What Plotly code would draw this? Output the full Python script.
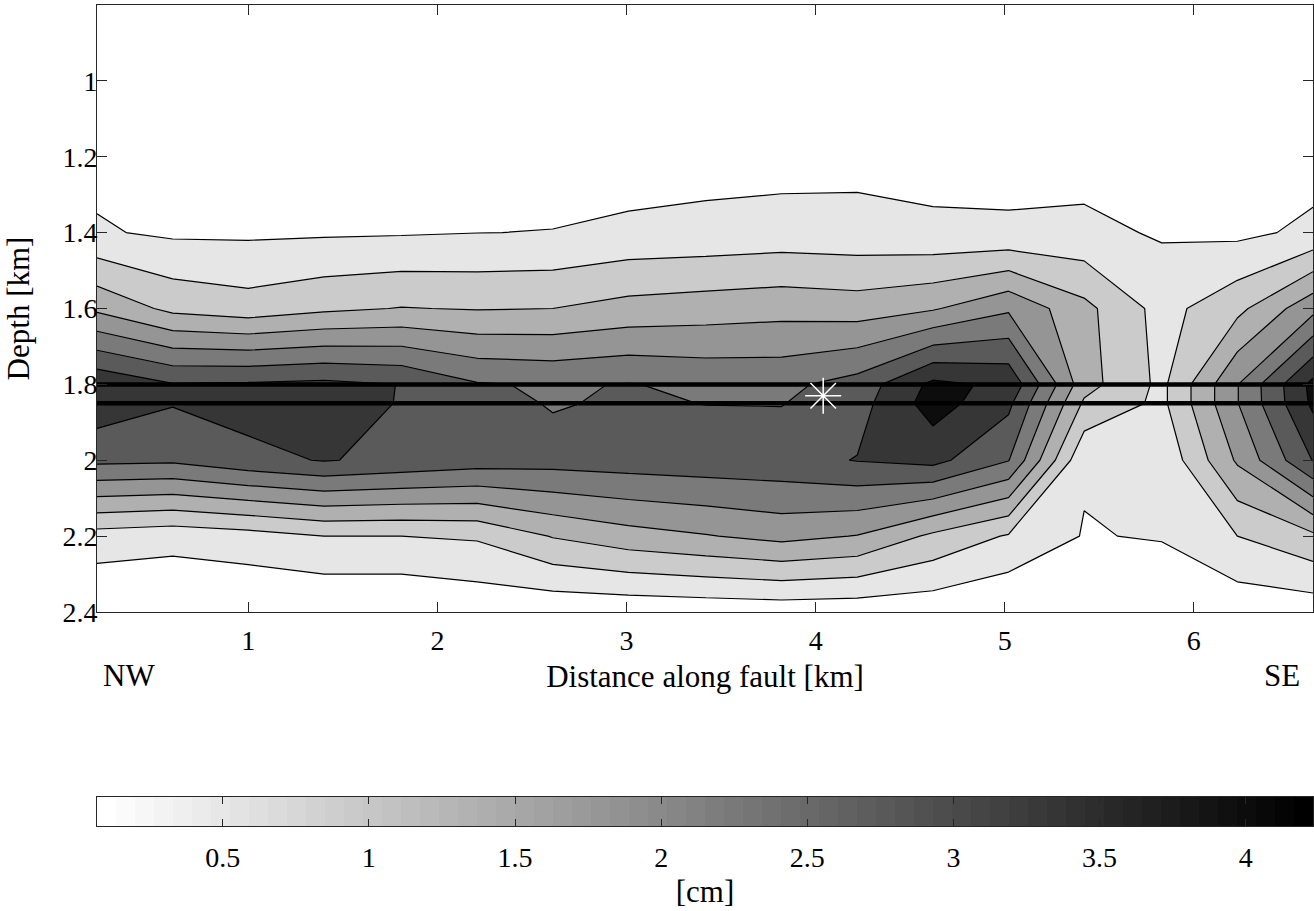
import numpy as np
import plotly.graph_objects as go

# ---------------- data ----------------
# grid columns: distance along fault [km]
distance_km = [0.20, 0.60, 1.00, 1.40, 1.81, 2.21, 2.61, 3.01, 3.42,
               3.82, 4.22, 4.62, 5.02, 5.42, 5.83, 6.23, 6.63]
# grid rows: depth [km]
depth_km = [0.80, 1.00, 1.20, 1.40, 1.60, 1.80, 1.85, 2.00, 2.20, 2.40]

# slip [cm] along each depth row (one value per distance column)
slip_d080 = [0.0] * 17
slip_d100 = [0.0] * 17
slip_d120 = [0.35, 0.30, 0.30, 0.30, 0.30, 0.30, 0.30, 0.17, 0.28, 0.30, 0.34, 0.29, 0.31, 0.30, 0.20, 0.20, 0.30]
slip_d140 = [0.55, 0.42, 0.42, 0.44, 0.46, 0.495, 0.51, 0.63, 0.66, 0.71, 0.68, 0.61, 0.58, 0.62, 0.45, 0.39, 0.60]
slip_d160 = [1.90, 1.37, 1.21, 1.40, 1.52, 1.47, 1.50, 1.67, 1.75, 1.82, 1.75, 1.95, 2.42, 1.64, 0.82, 1.36, 2.35]
slip_d180 = [3.90, 3.53, 3.56, 3.62, 3.49, 3.04, 2.95, 3.02, 2.90, 2.88, 3.20, 4.12, 3.90, 1.70, 0.88, 2.48, 4.15]
slip_d185 = [3.80, 3.53, 3.70, 3.75, 3.47, 3.20, 2.96, 3.07, 2.99, 2.98, 3.30, 4.23, 3.62, 1.42, 0.88, 2.48, 4.10]
slip_d200 = [3.12, 3.08, 3.35, 3.53, 3.38, 3.24, 3.20, 3.25, 3.30, 3.33, 3.52, 3.65, 3.02, 0.56, 0.59, 2.07, 3.52]
slip_d220 = [0.78, 0.68, 0.80, 1.00, 1.00, 1.06, 1.53, 1.80, 1.97, 2.15, 1.98, 1.40, 0.95, 0.47, 0.54, 1.00, 1.40]
slip_d240 = [0.00, 0.00, 0.00, 0.00, 0.00, 0.13, 0.11, 0.13, 0.16, 0.19, 0.17, 0.15, 0.00, 0.10, 0.00, 0.17, 0.20]

slip_rows = [slip_d080, slip_d100, slip_d120, slip_d140, slip_d160,
             slip_d180, slip_d185, slip_d200, slip_d220, slip_d240]

# contour levels [cm]
level_start, level_end, level_step = 0.5, 4.0, 0.5
# fill colour of each band: below first level, then above each level
band_colors = ["#ffffff", "#e6e6e6", "#cbcbcb", "#b0b0b0", "#959595",
               "#7a7a7a", "#5a5a5a", "#363636", "#0d0d0d"]

# reservoir layer boundaries [km] and hypocentre
layer_depths = [1.80, 1.85]
hypo_distance, hypo_depth = 4.04, 1.83

# axis ticks
x_ticks = [1, 2, 3, 4, 5, 6]
y_ticks = [1.0, 1.2, 1.4, 1.6, 1.8, 2.0, 2.2, 2.4]
y_ticktext = ["1", "1.2", "1.4", "1.6", "1.8", "2", "2.2", "2.4"]

# colour bar
cbar_min, cbar_max, cbar_steps = 0.07, 4.23, 64
cbar_ticks = [0.5, 1, 1.5, 2, 2.5, 3, 3.5, 4]
cbar_ticktext = ["0.5", "1", "1.5", "2", "2.5", "3", "3.5", "4"]

# ---------------- figure ----------------
FONT = "Liberation Serif"
FS_TICK = 28
FS_LABEL = 31

n_bands = len(band_colors) - 1
band_scale = [[i / n_bands, c] for i, c in enumerate(band_colors)]

fig = go.Figure()

fig.add_trace(go.Contour(
    x=distance_km, y=depth_km, z=slip_rows,
    autocontour=False,
    contours=dict(start=level_start, end=level_end, size=level_step,
                  coloring="fill", showlines=True),
    line=dict(color="black", width=1.2, smoothing=0),
    colorscale=band_scale, showscale=False, hoverinfo="skip",
    xaxis="x", yaxis="y"))

x_lo, x_hi = distance_km[0], distance_km[-1]
for d in layer_depths:
    fig.add_trace(go.Scatter(x=[x_lo, x_hi], y=[d, d], mode="lines",
                             line=dict(color="black", width=4.5),
                             showlegend=False, hoverinfo="skip",
                             xaxis="x", yaxis="y"))

fig.add_trace(go.Scatter(x=[hypo_distance], y=[hypo_depth], mode="markers",
                         marker=dict(symbol="asterisk-open", size=30, color="white",
                                     line=dict(color="white", width=1.5)),
                         showlegend=False, hoverinfo="skip",
                         xaxis="x", yaxis="y"))

# colour bar as its own strip
cb_edges = np.linspace(cbar_min, cbar_max, cbar_steps + 1)
cb_index = list(range(cbar_steps))
fig.add_trace(go.Heatmap(x=cb_edges, y=[0, 1], z=[cb_index],
                         zmin=0, zmax=cbar_steps - 1,
                         colorscale=[[0, "#ffffff"], [1, "#000000"]],
                         showscale=False, hoverinfo="skip",
                         xaxis="x2", yaxis="y2"))

H_TOP, H_BOT = 5, 85
plot_h = 911 - H_TOP - H_BOT
main_bottom = (826 - 612) / plot_h
cb_top = (826 - 797) / plot_h

axis_common = dict(showline=True, linecolor="#262626", linewidth=1,
                   mirror="ticks", ticks="inside", tickcolor="#262626",
                   showgrid=False, zeroline=False,
                   tickfont=dict(family=FONT, size=FS_TICK, color="black"))

fig.update_layout(
    width=1314, height=911,
    margin=dict(l=97, r=1, t=H_TOP, b=H_BOT),
    paper_bgcolor="white", plot_bgcolor="white",
    showlegend=False,
    font=dict(family=FONT, size=FS_TICK, color="black"),
    xaxis=dict(domain=[0, 1], range=[x_lo, x_hi], anchor="y",
               tickvals=x_ticks, ticklen=10, ticklabelstandoff=3,
               title=dict(text="Distance along fault [km]", standoff=10,
                          font=dict(family=FONT, size=FS_LABEL)),
               **axis_common),
    yaxis=dict(domain=[main_bottom, 1], range=[2.4, 0.8], anchor="x",
               tickvals=y_ticks, ticktext=y_ticktext, ticklen=10,
               ticklabelstandoff=-7,
               title=dict(text="Depth [km]", standoff=23,
                          font=dict(family=FONT, size=FS_LABEL)),
               **axis_common),
    xaxis2=dict(domain=[0, 1], range=[cbar_min, cbar_max], anchor="y2",
                tickvals=cbar_ticks, ticktext=cbar_ticktext, ticklen=7,
                ticklabelstandoff=6,
                title=dict(text="[cm]", standoff=8,
                           font=dict(family=FONT, size=FS_LABEL)),
                **axis_common),
    yaxis2=dict(domain=[0, cb_top], range=[0, 1], anchor="x2",
                showline=True, linecolor="#262626", linewidth=1, mirror=True,
                ticks="", showticklabels=False, showgrid=False, zeroline=False),
    annotations=[
        dict(text="NW", xref="paper", yref="paper", x=0.003, y=(826 - 675) / plot_h,
             xanchor="left", yanchor="middle", showarrow=False,
             font=dict(family=FONT, size=FS_LABEL)),
        dict(text="SE", xref="paper", yref="paper", x=0.991, y=(826 - 675) / plot_h,
             xanchor="right", yanchor="middle", showarrow=False,
             font=dict(family=FONT, size=FS_LABEL)),
    ],
)

fig.write_html("out.html",
               config={"displayModeBar": False},
               post_script="document.body.style.margin='0px';"
                           "document.body.style.overflow='hidden';")
